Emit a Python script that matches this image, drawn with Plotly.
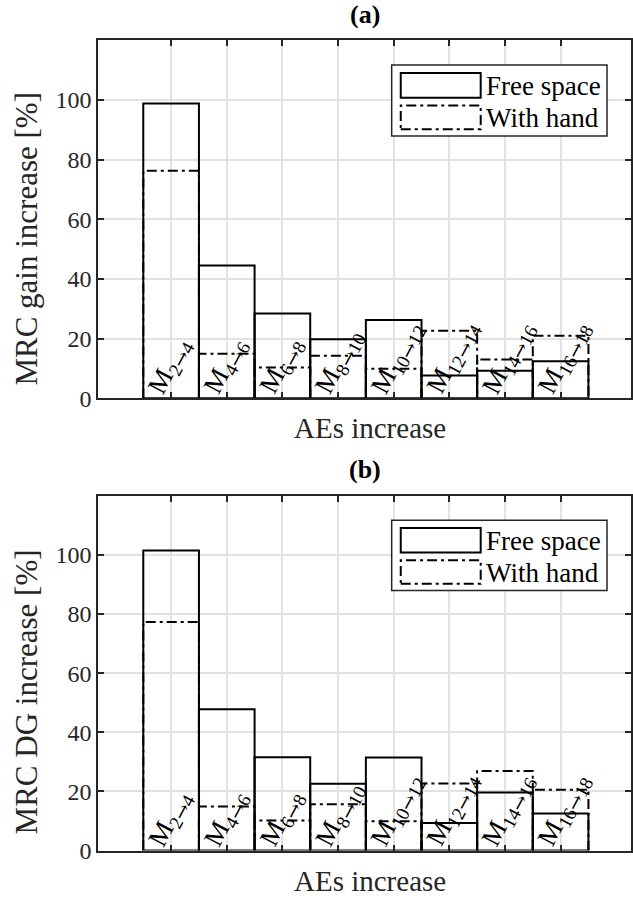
import plotly.graph_objects as go

# ---------------- data ----------------
subs = [("2", "4"), ("4", "6"), ("6", "8"), ("8", "10"),
        ("10", "12"), ("12", "14"), ("14", "16"), ("16", "18")]
positions = [1, 2, 3, 4, 5, 6, 7, 8]
free_a = [98.8, 44.5, 28.4, 19.8, 26.2, 7.6, 9.2, 12.4]
hand_a = [76.3, 14.9, 10.3, 14.2, 9.9, 22.6, 13.0, 20.9]
free_b = [101.5, 47.8, 31.6, 22.6, 31.5, 9.3, 19.6, 12.5]
hand_b = [77.3, 14.9, 10.2, 15.7, 9.9, 22.7, 26.9, 20.6]
yticks = [0, 20, 40, 60, 80, 100]
panel_titles = ["(a)", "(b)"]
ylabels = ["MRC gain increase [%]", "MRC DG increase [%]"]
xlabel = "AEs increase"
legend_names = ["Free space", "With hand"]

FONT = "Liberation Serif"
TXT = "#262626"
W, H = 633, 902
ML = 98
PW = W - ML
bar_w = 1.0

labels = ["M<sub>%s<span style='font-family:DejaVu Serif'>→</span>%s</sub>" % s for s in subs]

fig = go.Figure()

panels = [
    dict(free=free_a, hand=hand_a, xa="x", ya="y", xkey="xaxis", ykey="yaxis",
         dom=[1 - 404 / H, 1 - 41 / H]),
    dict(free=free_b, hand=hand_b, xa="x2", ya="y2", xkey="xaxis2", ykey="yaxis2",
         dom=[1 - 863 / H, 1 - 503 / H]),
]

dashpat = "10px,4px,3px,4px"

for k, p in enumerate(panels):
    fig.add_trace(go.Bar(
        x=positions, y=p["free"], width=bar_w, xaxis=p["xa"], yaxis=p["ya"],
        marker=dict(color="rgba(0,0,0,0)", line=dict(color="black", width=2)),
        showlegend=False, hoverinfo="skip"))
    xs, ys = [], []
    for pos, v in zip(positions, p["hand"]):
        xs += [pos - bar_w / 2, pos - bar_w / 2, pos + bar_w / 2, pos + bar_w / 2, None]
        ys += [0, v, v, 0, None]
    fig.add_trace(go.Scatter(
        x=xs, y=ys, mode="lines", xaxis=p["xa"], yaxis=p["ya"],
        line=dict(color="black", width=2, dash=dashpat),
        showlegend=False, hoverinfo="skip", connectgaps=False))

    # bar labels
    for pos, lab in zip(positions, labels):
        fig.add_annotation(x=pos - bar_w / 2, y=0, xref=p["xa"], yref=p["ya"],
                           text=lab, showarrow=False, textangle=-62,
                           xanchor="left", yanchor="bottom", xshift=-4, yshift=-5,
                           font=dict(family=FONT, size=27, color="black"))

    axis_common = dict(showgrid=True, gridcolor="#e2e2e2", gridwidth=1.5,
                       showline=True, linecolor=TXT, linewidth=1.5, mirror="ticks",
                       ticks="inside", ticklen=6, tickwidth=1.5, tickcolor=TXT,
                       zeroline=False,
                       tickfont=dict(family=FONT, size=24, color=TXT))
    fig.update_layout({
        p["xkey"]: dict(axis_common, domain=[0, 1], anchor=p["ya"],
                        range=[-0.314, 9.265], tickvals=positions,
                        showticklabels=False),
        p["ykey"]: dict(axis_common, domain=p["dom"], anchor=p["xa"],
                        range=[0, 120], tickvals=yticks),
    })

    d0, d1 = p["dom"]
    xdom = p["xa"] + " domain"
    ydom = p["ya"] + " domain"
    # title
    fig.add_annotation(x=0.5, y=d1, xref=xdom, yref="paper", yshift=26,
                       text="<b>%s</b>" % panel_titles[k], showarrow=False,
                       yanchor="middle",
                       font=dict(family=FONT, size=26, color="black"))
    # x label
    fig.add_annotation(x=0.5, y=d0, xref=xdom, yref="paper", yshift=-30, xshift=5,
                       text=xlabel, showarrow=False, yanchor="middle",
                       font=dict(family=FONT, size=29, color=TXT))
    # y label
    fig.add_annotation(x=(26 - ML) / PW, y=(d0 + d1) / 2, xref="paper", yref="paper",
                       yshift=-19,
                       text=ylabels[k], showarrow=False, textangle=-90,
                       xanchor="center", yanchor="middle",
                       font=dict(family=FONT, size=31, color=TXT))

    # custom legend
    fig.add_shape(type="rect", xref=xdom, yref=ydom, x0=0.551, x1=0.955,
                  y0=0.733, y1=0.931, line=dict(color=TXT, width=1.5),
                  fillcolor="white", layer="above")
    fig.add_shape(type="rect", xref=xdom, yref=ydom, x0=0.568, x1=0.718,
                  y0=0.840, y1=0.909, line=dict(color="black", width=2),
                  layer="above")
    fig.add_shape(type="rect", xref=xdom, yref=ydom, x0=0.568, x1=0.718,
                  y0=0.752, y1=0.818, line=dict(color="black", width=2, dash=dashpat),
                  layer="above")
    for name, yy in zip(legend_names, [0.873, 0.783]):
        fig.add_annotation(x=0.724, y=yy, xref=xdom, yref=ydom, text=name,
                           showarrow=False, xanchor="left", yanchor="middle",
                           font=dict(family=FONT, size=27, color="black"))

fig.update_layout(width=W, height=H, margin=dict(l=ML, r=0, t=0, b=0),
                  paper_bgcolor="white", plot_bgcolor="white",
                  barmode="overlay", showlegend=False)

fig.write_html("out.html")
